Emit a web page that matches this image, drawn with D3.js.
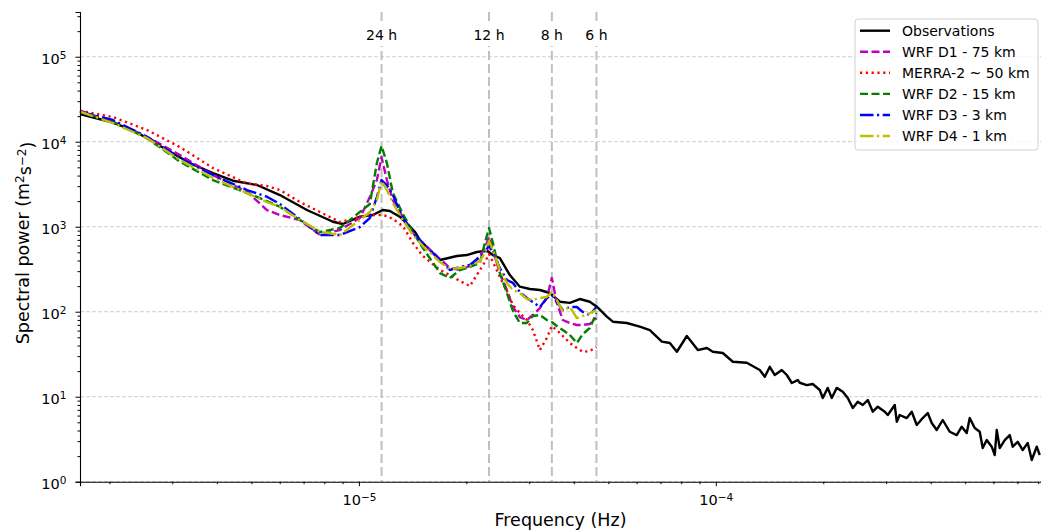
<!DOCTYPE html>
<html>
<head>
<meta charset="utf-8">
<script src="https://cdn.jsdelivr.net/npm/d3@7"></script>
<style>
  body { margin: 0; background: #fff; }
  text { font-family: "DejaVu Sans", sans-serif; fill: #000; }
</style>
</head>
<body>
<div id="chart"></div>
<script>
// frequencies are in micro-Hz, power in m2 s-2
var obsFreq = [
  1.654, 2.007, 2.328, 2.955, 3.362, 3.899, 4.436, 5.18, 6.006, 7.15,
  8.457, 9.02, 10.06, 10.94, 11.67, 12.21, 13.02, 13.90, 14.35, 14.82,
  16.87, 18.82, 20.07, 21.41, 22.84, 23.74, 24.83, 26.48, 28.25, 30.13,
  32.14, 34.28, 36.56, 38.99, 41.59, 44.36, 46.42, 49.51, 51.46, 56.33,
  61.24, 65.33, 70.61, 74.34, 77.78, 82.96, 89.06, 94.4, 98.1, 104.6,
  111.6, 122.1, 132.8, 137.2, 141.7, 146.3, 153.1, 158.1, 163.3, 169.7,
  171.9, 179.8, 186.9, 195.6, 199.4, 205.9, 211.3, 218.2, 226.9, 234.3,
  242.0, 249.9, 258.1, 266.6, 275.4, 284.4, 297.5, 303.3, 317.2, 321.4,
  327.6, 342.8, 354.0, 365.6, 380.0, 392.5, 402.7, 415.9, 432.3, 452.3,
  473.2, 488.7, 504.7, 514.6, 531.5, 548.9, 559.6, 574.2, 593.1, 604.7,
  612.5, 624.5, 645.0, 666.1, 679.1, 701.4, 724.4, 748.2, 767.7, 792.9,
  808.4
];
var obsPower = [
  21180, 17190, 13730, 7625, 5613, 4285, 3477, 3095, 2360, 1572,
  1145, 1076, 1311, 1373, 1572, 1530, 1311, 1000, 873, 697,
  406, 452, 464, 504, 522, 464, 428, 270, 197, 185,
  180, 166, 131, 127, 141, 131, 114.5, 87.4, 76.3, 73.6,
  66.6, 60.9, 44.4, 42.8, 33.8, 51.8, 35.4, 37.4, 33.8, 32.7,
  25.8, 25.1, 20.6, 17.2, 22.5, 18.0, 20.6, 18.0, 14.5, 15.7,
  14.6, 13.7, 14.1, 12.0, 9.65, 12.7, 9.65, 12.7, 11.45, 9.65,
  7.36, 8.73, 7.99, 9.15, 6.66, 7.63, 6.66, 6.09, 7.99, 5.08,
  6.09, 5.61, 6.66, 4.65, 5.61, 6.43, 4.91, 4.06, 5.32, 3.87,
  3.54, 4.44, 3.74, 5.61, 4.28, 3.87, 2.49, 3.09, 2.58, 2.06,
  4.06, 2.49, 3.09, 3.54, 2.58, 2.95, 2.36, 2.85, 1.80, 2.58,
  2.06
];

var modelFreq = [
  1.654, 2.046, 2.548, 3.152, 3.899, 4.857, 5.524, 6.006, 6.834, 7.778,
  8.846, 10.06, 10.73, 11.23, 11.57, 11.98, 12.45, 13.28, 14.17, 15.11,
  16.87, 17.98, 19.18, 20.46, 21.83, 22.54, 23.15, 23.74, 24.83, 25.98,
  27.01, 28.25, 29.55, 30.72, 32.14, 33.62, 34.72, 35.86, 37.27, 38.99,
  40.79, 42.41, 44.36, 46.30
];
var wrfD1 = [
  23160, 17190, 11450, 6975, 4057, 2581, 1572, 1373, 1199, 799,
  915, 1266, 2236, 3543, 6607, 3543, 2061, 1301, 843, 643,
  417, 327, 309.5, 345, 452, 562, 757, 532, 285, 180,
  113.6, 86.6, 79.9, 91.5, 110.5, 145, 249, 127, 79.9, 73.6,
  69.8, 69.8, 71.7, 84.3
];
var merra2 = [
  23160, 19530, 13730, 8660, 4905, 3223, 3012, 2703, 1953, 1489,
  1136, 1301, 1373, 1373, 1373, 1336, 1232, 1019, 643, 452,
  309.5, 270, 230, 200, 309.5, 384, 477, 384, 256, 175,
  120, 96.5, 79.9, 60.9, 35.4, 49.1, 67.9, 60.9, 51.8, 42.8,
  37.4, 33.6, 34.5, 38.4
];
var wrfD2 = [
  22540, 17190, 11050, 5818, 3543, 2492, 2006, 1719, 1199, 866,
  965, 1489, 1850, 5613, 8900, 5613, 2492, 1410, 866, 562,
  285, 249, 309.5, 336, 374, 643, 965, 643, 285, 166,
  102, 73.6, 73.6, 89, 91.5, 79.9, 75.6, 67.9, 60.9, 53.2,
  42.8, 54.7, 64.3, 96.5
];
var wrfD3 = [
  22540, 18000, 11450, 6430, 4057, 2703, 2254, 1850, 1232, 799,
  799, 992, 1266, 2236, 3543, 3095, 2360, 1266, 843, 643,
  406, 309.5, 336, 354, 440, 490, 609, 490, 327, 236,
  218, 170.5, 145, 130, 113.6, 145, 157, 130, 104.7, 113.6,
  113.6, 99.2, 91.5, 113.6
];
var wrfD4 = [
  22540, 16600, 11050, 6090, 3741, 2492, 1953, 1719, 1199, 873,
  799, 1199, 1489, 2061, 3448, 2703, 1900, 1199, 799, 593,
  384, 318, 327, 345, 395, 490, 679, 532, 309.5, 218,
  180, 166, 141, 137, 145, 149, 170.5, 137, 102, 113.6,
  84.3, 89, 96.5, 104.7
];

var seriesNames = ["Observations", "WRF D1 - 75 km", "MERRA-2 ~ 50 km", "WRF D2 - 15 km", "WRF D3 - 3 km", "WRF D4 - 1 km"];
var periodHours = [24, 12, 8, 6];
var periodLabels = ["24 h", "12 h", "8 h", "6 h"];
var yMajor = [1, 10, 100, 1e3, 1e4, 1e5];
var xMajor = [1e-5, 1e-4];

var width = 1041, height = 531;
var margin = {top: 12, right: 0, bottom: 49.3, left: 80};

var svg = d3.select("#chart").append("svg")
    .attr("width", width)
    .attr("height", height)
    .style("background", "#fff");

var x = d3.scaleLog().domain([1.654e-6, 8.15e-4]).range([margin.left, width - margin.right]);
var y = d3.scaleLog().domain([1, 3.36e5]).range([height - margin.bottom, margin.top]);

// minor ticks
var yMinor = [];
yMajor.forEach(function(d) { for (var k = 2; k <= 9; k++) { if (d * k < 3.36e5) yMinor.push(d * k); } });
var xMinor = [];
[1e-6, 1e-5, 1e-4].forEach(function(d) { for (var k = 2; k <= 9; k++) { var v = d * k; if (v > 1.654e-6 && v < 8.15e-4) xMinor.push(v); } });

// horizontal grid
svg.append("g").selectAll("line").data(yMajor).enter().append("line")
    .attr("x1", margin.left).attr("x2", width)
    .attr("y1", function(d) { return y(d); }).attr("y2", function(d) { return y(d); })
    .attr("stroke", "#cfcfcf").attr("stroke-width", 1).attr("stroke-dasharray", "4,2");

// period lines
var periodFreq = periodHours.map(function(h) { return 1 / (h * 3600); });
svg.append("g").selectAll("line").data(periodFreq).enter().append("line")
    .attr("x1", function(d) { return x(d); }).attr("x2", function(d) { return x(d); })
    .attr("y1", margin.top).attr("y2", height - margin.bottom)
    .attr("stroke", "#c0c0c0").attr("stroke-width", 2).attr("stroke-dasharray", "9,4");

// series
var styles = [
  {color: "#000000", dash: null},
  {color: "#bf00bf", dash: "8,3.5"},
  {color: "#ff0000", dash: "2.2,3.6"},
  {color: "#008000", dash: "8,3.5"},
  {color: "#0000ff", dash: "13.5,3.5,2.2,3.5"},
  {color: "#bfbf00", dash: "13.5,3.5,2.2,3.5"}
];
function zip(fr, pw) { return fr.map(function(f, i) { return {f: f * 1e-6, p: pw[i]}; }); }
var data = [
  zip(obsFreq, obsPower),
  zip(modelFreq, wrfD1),
  zip(modelFreq, merra2),
  zip(modelFreq, wrfD2),
  zip(modelFreq, wrfD3),
  zip(modelFreq, wrfD4)
];
var line = d3.line().x(function(d) { return x(d.f); }).y(function(d) { return y(d.p); });

svg.append("g").selectAll("path").data(data).enter().append("path")
    .attr("d", line)
    .attr("fill", "none")
    .attr("stroke", function(d, i) { return styles[i].color; })
    .attr("stroke-width", 2.4)
    .attr("stroke-linejoin", "round")
    .attr("stroke-dasharray", function(d, i) { return styles[i].dash; });

// period labels with white box
var plab = svg.append("g").selectAll("g").data(periodFreq).enter().append("g")
    .attr("transform", function(d) { return "translate(" + x(d) + ",35)"; });
plab.append("rect").attr("x", -20).attr("y", -11).attr("width", 40).attr("height", 22).attr("fill", "#fff");
plab.append("text").attr("text-anchor", "middle").attr("dy", "0.36em")
    .style("font-size", "14px")
    .text(function(d, i) { return periodLabels[i]; });

// axes
function sup(sel, base, exp) {
  sel.text(base);
  sel.append("tspan").attr("dy", "-0.45em").style("font-size", "10.5px").text(exp);
}
var yAxis = svg.append("g").attr("transform", "translate(" + margin.left + ",0)")
    .call(d3.axisLeft(y).tickValues(yMajor).tickSize(4.5).tickPadding(9).tickFormat(function() { return ""; }));
yAxis.selectAll(".tick text").each(function(d) {
  sup(d3.select(this), "10", String(Math.round(Math.log10(d))));
}).style("font-size", "14.5px").attr("dy", "0.45em");
svg.append("g").attr("transform", "translate(" + margin.left + ",0)")
    .call(d3.axisLeft(y).tickValues(yMinor).tickSize(2.5).tickFormat(function() { return ""; }))
    .call(function(g) { g.select(".domain").remove(); });

var xAxis = svg.append("g").attr("transform", "translate(0," + (height - margin.bottom) + ")")
    .call(d3.axisBottom(x).tickValues(xMajor).tickSize(4.5).tickPadding(6).tickFormat(function() { return ""; }));
xAxis.selectAll(".tick text").each(function(d) {
  sup(d3.select(this), "10", "\u2212" + String(Math.round(-Math.log10(d))));
}).style("font-size", "14.5px").attr("dy", "0.9em");
svg.append("g").attr("transform", "translate(0," + (height - margin.bottom) + ")")
    .call(d3.axisBottom(x).tickValues(xMinor).tickSize(2.5).tickFormat(function() { return ""; }))
    .call(function(g) { g.select(".domain").remove(); });

svg.selectAll(".domain").attr("stroke", "#000").attr("stroke-width", 1.1);
svg.selectAll(".tick line").attr("stroke", "#000").attr("stroke-width", 1);

// axis labels
svg.append("text")
    .attr("x", (margin.left + width) / 2).attr("y", 526)
    .attr("text-anchor", "middle").style("font-size", "17.5px")
    .text("Frequency (Hz)");
var yl = svg.append("text")
    .attr("transform", "translate(29,243) rotate(-90)")
    .attr("text-anchor", "middle").style("font-size", "17.5px");
yl.append("tspan").text("Spectral power (m");
yl.append("tspan").attr("dy", "-0.45em").style("font-size", "12px").text("2");
yl.append("tspan").attr("dy", "0.45em").text("s");
yl.append("tspan").attr("dy", "-0.45em").style("font-size", "12px").text("\u22122");
yl.append("tspan").attr("dy", "0.45em").text(")");

// legend
var lg = svg.append("g");
lg.append("rect").attr("x", 855).attr("y", 19).attr("width", 183).attr("height", 131)
    .attr("rx", 3).attr("fill", "#fff").attr("fill-opacity", 0.8)
    .attr("stroke", "#d0d0d0").attr("stroke-width", 1);
var items = lg.selectAll("g.item").data(seriesNames).enter().append("g")
    .attr("transform", function(d, i) { return "translate(0," + (30.7 + i * 21.06) + ")"; });
items.append("line").attr("x1", 860).attr("x2", 890)
    .attr("stroke", function(d, i) { return styles[i].color; })
    .attr("stroke-width", 2.4)
    .attr("stroke-dasharray", function(d, i) { return styles[i].dash; });
items.append("text").attr("x", 902).attr("dy", "0.36em").style("font-size", "14px")
    .text(function(d) { return d; });
</script>
</body>
</html>
